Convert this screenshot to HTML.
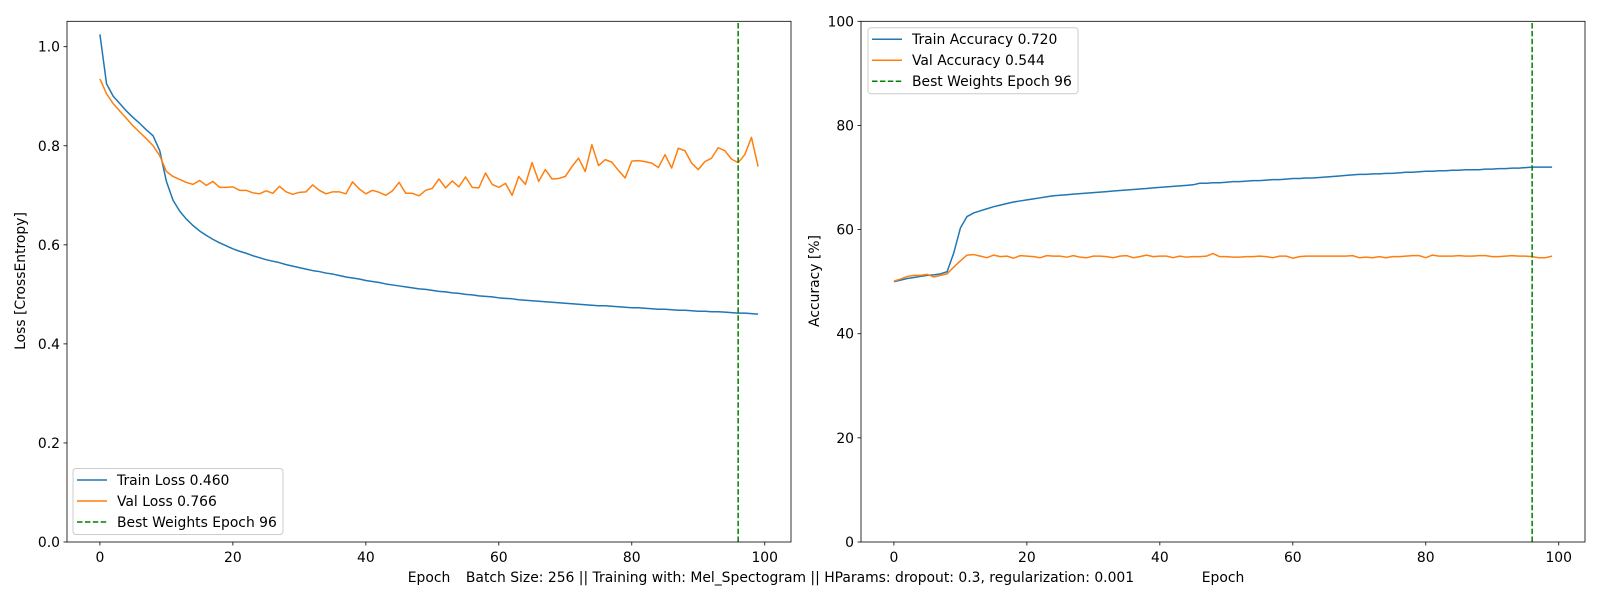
<!DOCTYPE html>
<html><head><meta charset="utf-8"><style>
html,body{margin:0;padding:0;background:#fff;}
svg{display:block;font-family:"DejaVu Sans","Liberation Sans",sans-serif;}
</style></head><body>
<svg id="fig" width="1600" height="600" viewBox="0 0 1600 600"></svg>
<script>
const epochs = Array.from({length:100},(_,i)=>i);
const trainLoss = [1.025,0.925,0.900,0.885,0.870,0.857,0.845,0.832,0.820,0.790,0.728,0.690,0.668,0.652,0.639,0.628,0.619,0.611,0.604,0.598,
0.592,0.587,0.583,0.578,0.574,0.570,0.567,0.564,0.560,0.557,0.554,0.551,0.548,0.546,0.543,0.541,0.538,0.535,0.533,0.531,
0.528,0.526,0.524,0.521,0.519,0.517,0.515,0.513,0.511,0.510,0.508,0.506,0.505,0.503,0.502,0.500,0.499,0.497,0.496,0.495,
0.493,0.492,0.491,0.489,0.488,0.487,0.486,0.485,0.484,0.483,0.482,0.481,0.480,0.479,0.478,0.477,0.477,0.476,0.475,0.474,
0.473,0.473,0.472,0.471,0.470,0.470,0.469,0.468,0.468,0.467,0.466,0.466,0.465,0.465,0.464,0.463,0.462,0.462,0.461,0.460];
const valLoss = [0.935,0.905,0.885,0.870,0.855,0.840,0.827,0.814,0.800,0.780,0.748,0.738,0.732,0.726,0.722,0.730,0.720,0.728,0.716,0.716,
0.717,0.710,0.710,0.705,0.703,0.709,0.704,0.718,0.707,0.702,0.706,0.707,0.721,0.710,0.703,0.707,0.707,0.703,0.727,0.713,
0.703,0.710,0.706,0.700,0.709,0.726,0.704,0.704,0.699,0.710,0.714,0.733,0.715,0.729,0.717,0.737,0.716,0.715,0.745,0.722,
0.716,0.724,0.700,0.738,0.722,0.766,0.728,0.752,0.733,0.734,0.738,0.758,0.775,0.748,0.802,0.760,0.772,0.767,0.750,0.735,
0.769,0.770,0.768,0.765,0.756,0.782,0.755,0.795,0.790,0.765,0.752,0.768,0.775,0.796,0.790,0.773,0.766,0.782,0.817,0.758];
const trainAcc = [50.0,50.3,50.6,50.8,51.0,51.2,51.3,51.5,51.9,55.5,60.3,62.5,63.2,63.6,64.0,64.4,64.7,65.0,65.3,65.5,
65.7,65.9,66.1,66.3,66.5,66.6,66.7,66.8,66.9,67.0,67.1,67.2,67.3,67.4,67.5,67.6,67.7,67.8,67.9,68.0,
68.1,68.2,68.3,68.4,68.5,68.6,68.9,68.9,69.0,69.0,69.1,69.2,69.2,69.3,69.4,69.4,69.5,69.6,69.6,69.7,
69.8,69.8,69.9,69.9,70.0,70.1,70.2,70.3,70.4,70.5,70.6,70.6,70.7,70.7,70.8,70.8,70.9,71.0,71.0,71.1,
71.2,71.2,71.3,71.3,71.4,71.4,71.5,71.5,71.5,71.6,71.6,71.7,71.7,71.8,71.8,71.9,72.0,72.0,72.0,72.0];
const valAcc = [50.1,50.5,51.0,51.2,51.2,51.4,50.9,51.2,51.5,52.8,54.0,55.1,55.2,54.9,54.6,55.1,54.8,54.9,54.5,55.0,
54.9,54.8,54.6,55.0,54.9,54.9,54.7,55.0,54.7,54.6,54.9,54.9,54.8,54.6,54.9,55.0,54.6,54.8,55.1,54.8,
54.9,54.9,54.6,54.9,54.7,54.8,54.8,54.9,55.4,54.8,54.8,54.7,54.7,54.8,54.8,54.9,54.8,54.6,54.9,54.9,
54.5,54.8,54.9,54.9,54.9,54.9,54.9,54.9,54.9,55.0,54.6,54.7,54.6,54.8,54.6,54.8,54.8,54.9,55.0,55.0,
54.6,55.1,54.9,54.9,54.9,55.0,54.9,54.9,55.0,55.0,54.8,54.8,54.9,55.0,54.9,54.9,54.8,54.6,54.6,54.9];
const bestEpoch = 96;
const lossTicks = [0.0,0.2,0.4,0.6,0.8,1.0];
const lossTickLabels = ["0.0","0.2","0.4","0.6","0.8","1.0"];
const accTicks = [0,20,40,60,80,100];
const epochTicks = [0,20,40,60,80,100];
const lossLegend = ["Train Loss 0.460","Val Loss 0.766","Best Weights Epoch 96"];
const accLegend = ["Train Accuracy 0.720","Val Accuracy 0.544","Best Weights Epoch 96"];

const NS="http://www.w3.org/2000/svg";
const svg=document.getElementById('fig');
function mk(tag,attrs,parent){const e=document.createElementNS(NS,tag);for(const k in attrs)e.setAttribute(k,attrs[k]);(parent||svg).appendChild(e);return e;}
const BLUE="#1f77b4",ORANGE="#ff7f0e",GREEN="#008000";

function axes(name,L,R,T,B,xmin,xmax,ymin,ymax){
  const g=mk('g',{});
  
  
  const sx=v=>L+(v-xmin)/(xmax-xmin)*(R-L);
  const sy=v=>B-(v-ymin)/(ymax-ymin)*(B-T);
  return {g,sx,sy,L,R,T,B};
}
function line(ax,xs,ys,color,name,dash){
  const d=xs.map((x,i)=>(i?'L':'M')+ax.sx(x).toFixed(2)+','+ax.sy(ys[i]).toFixed(2)).join('');
  const p=mk('path',{d,fill:'none',stroke:color,'stroke-width':1.5,'stroke-linejoin':'round'},ax.g);
  if(dash)p.setAttribute('stroke-dasharray',dash);
  
  
}
function frame(ax,yt,ytl,xt){
  for(let i=0;i<yt.length;i++){
    const y=ax.sy(yt[i]);
    mk('line',{x1:ax.L-3.5,x2:ax.L,y1:y,y2:y,stroke:'#000','stroke-width':0.8},ax.g);
    const t=mk('text',{x:ax.L-7,y:y+5,'text-anchor':'end','font-size':13.9,fill:'#000'},ax.g);
    t.textContent=ytl[i];
    
    
  }
  for(const v of xt){
    const x=ax.sx(v);
    mk('line',{x1:x,x2:x,y1:ax.B,y2:ax.B+3.5,stroke:'#000','stroke-width':0.8},ax.g);
    const t=mk('text',{x:x,y:ax.B+20,'text-anchor':'middle','font-size':13.9,fill:'#000'},ax.g);
    t.textContent=String(v);
    
    
  }
  const r=mk('rect',{x:ax.L,y:ax.T,width:ax.R-ax.L,height:ax.B-ax.T,fill:'none',stroke:'#000','stroke-width':0.8},ax.g);
  
  
}
function legend(ax,x,y,labels,name){
  const g=mk('g',{},ax.g);
  
  
  mk('rect',{x:x,y:y,width:210,height:66,rx:3,fill:'#fff','fill-opacity':0.8,stroke:'#ccc','stroke-width':1},g);
  const cols=[BLUE,ORANGE,GREEN];
  for(let i=0;i<3;i++){
    const cy=y+11.5+i*21;
    const l=mk('line',{x1:x+4,x2:x+34,y1:cy,y2:cy,stroke:cols[i],'stroke-width':1.5},g);
    if(i==2)l.setAttribute('stroke-dasharray','5.5,2.4');
    const t=mk('text',{x:x+44,y:cy+5,'font-size':13.9,fill:'#000'},g);
    t.textContent=labels[i];
    
    
  }
}
const a1=axes('loss-chart',67,791,21.3,542,-4.95,103.95,0,1.0513);
line(a1,epochs,trainLoss,BLUE,'train-loss-line');
line(a1,epochs,valLoss,ORANGE,'val-loss-line');
line(a1,[bestEpoch,bestEpoch],[0,1.0513],GREEN,'best-epoch-line','5.5,2.4');
frame(a1,lossTicks,lossTickLabels,epochTicks);
legend(a1,73,468.5,lossLegend,'loss-legend');
const a2=axes('accuracy-chart',861,1585,21.3,542,-4.95,103.95,0,100);
line(a2,epochs,trainAcc,BLUE,'train-accuracy-line');
line(a2,epochs,valAcc,ORANGE,'val-accuracy-line');
line(a2,[bestEpoch,bestEpoch],[0,100],GREEN,'best-epoch-line-acc','5.5,2.4');
frame(a2,accTicks,accTicks.map(String),epochTicks);
legend(a2,868,27.7,accLegend,'accuracy-legend');
</script>
<div style="position:absolute;left:0;top:0;width:1600px;height:600px;pointer-events:none;font-family:'DejaVu Sans','Liberation Sans',sans-serif;font-size:13.9px;color:#000;">
  <div style="position:absolute;left:21px;top:281px;transform:translate(-50%,-50%) rotate(-90deg);white-space:nowrap;">Loss [CrossEntropy]</div>
  <div style="position:absolute;left:815px;top:281px;transform:translate(-50%,-50%) rotate(-90deg);white-space:nowrap;">Accuracy [%]</div>
  <div style="position:absolute;left:429px;top:578px;transform:translate(-50%,-50%);white-space:nowrap;">Epoch</div>
  <div style="position:absolute;left:1223px;top:578px;transform:translate(-50%,-50%);white-space:nowrap;">Epoch</div>
  <div style="position:absolute;left:800px;top:578px;transform:translate(-50%,-50%);white-space:nowrap;">Batch Size: 256 || Training with: Mel_Spectogram || HParams: dropout: 0.3, regularization: 0.001</div>
</div>
</body></html>
